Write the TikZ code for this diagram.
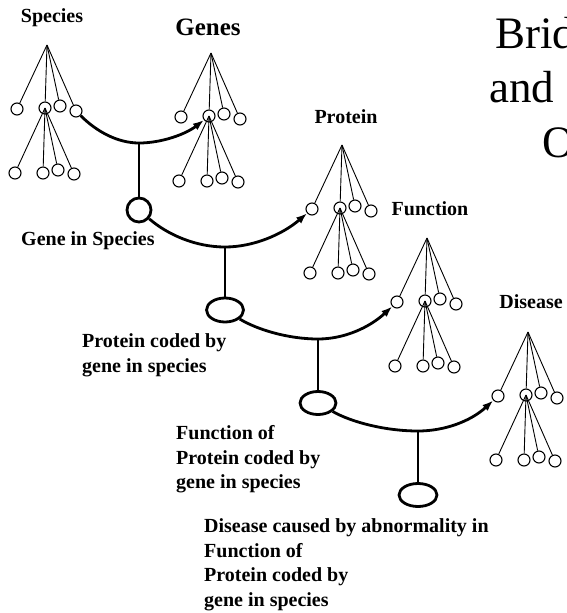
\documentclass[tikz,border=0pt]{standalone}
\usepackage{fontspec}
\setmainfont{Liberation Serif}
\usetikzlibrary{arrows.meta,shapes.geometric}

% one small ontology tree: #1 = name, (#2,#3) = apex
\newcommand{\ontotree}[3]{%
	\begin{scope}[shift={(#2,#3)}]
		\coordinate (#1) at (0,0);
		\node[leaf] (#1-1) at (-30,64) {};
		\node[leaf] (#1-2) at (-2,63) {};
		\node[leaf] (#1-3) at (13,61) {};
		\node[leaf] (#1-4) at (29,66) {};
		\node[leaf] (#1-5) at (-32,128) {};
		\node[leaf] (#1-6) at (-4,128) {};
		\node[leaf] (#1-7) at (11,125) {};
		\node[leaf] (#1-8) at (27,129) {};
		\foreach \k in {1,...,4} \draw[twig] (#1) -- (#1-\k);
		\foreach \k in {5,...,8} \draw[twig] (#1-2.center) -- (#1-\k);
	\end{scope}}

\begin{document}
\begin{tikzpicture}[x=1pt, y=-1pt,
	leaf/.style={circle, draw, minimum size=12pt, inner sep=0pt, line width=1.1pt},
	twig/.style={line width=0.9pt},
	hub/.style={ellipse, draw, line width=2.8pt, inner sep=0pt},
	link/.style={line width=2.8pt, -{Latex[length=11pt,width=8pt]}},
	stem/.style={line width=2.8pt},
	lbl/.style={font=\bfseries\fontsize{20}{24.5}\selectfont, inner sep=0pt},
	ttl/.style={font=\fontsize{45}{54}\selectfont, inner sep=0pt, anchor=base west}]
	\useasboundingbox (0,0) rectangle (566,613);
	\clip (0,0) rectangle (566,613);

	% trees
	\ontotree{sp}{47}{45}
	\ontotree{gn}{211}{53}
	\ontotree{pr}{342}{145}
	\ontotree{fn}{427}{238}
	\ontotree{ds}{528}{332}

	\node[lbl, anchor=base] (tsp) at (52,23) {Species};
	\node[lbl, anchor=base, font=\bfseries\fontsize{25}{30}\selectfont] (tgn) at (208,35) {Genes};
	\node[lbl, anchor=base] (tpr) at (346,123) {Protein};
	\node[lbl, anchor=base] (tfn) at (430,215) {Function};
	\node[lbl, anchor=base] (tds) at (531,308) {Disease};

	% junctions and bridge concepts
	\coordinate (j1) at (139,143);
	\coordinate (j2) at (225,247);
	\coordinate (j3) at (318,339);
	\coordinate (j4) at (418,431);
	\node[hub, minimum width=24pt, minimum height=24pt] (gs) at (139,210) {};
	\node[hub, minimum width=37pt, minimum height=24pt] (pc) at (225,310) {};
	\node[hub, minimum width=36pt, minimum height=23pt] (fp) at (318,403) {};
	\node[hub, minimum width=38pt, minimum height=23pt] (dc) at (418,495) {};

	\draw[link] (sp-4) .. controls +(21,21) and +(-21,0) .. (j1) .. controls +(23,0) and +(-23,18) .. (gn-2);
	\draw[link] (gs) .. controls +(29,25) and +(-29,0) .. (j2) .. controls +(29,0) and +(-29,25) .. (pr-1);
	\draw[link] (pc) .. controls +(31,19) and +(-31,0) .. (j3) .. controls +(27,0) and +(-27,25) .. (fn-1);
	\draw[link] (fp) .. controls +(33,19) and +(-33,0) .. (j4) .. controls +(27,0) and +(-27,25) .. (ds-1);
	\draw[stem] (j1) -- (gs);
	\draw[stem] (j2) -- (pc);
	\draw[stem] (j3) -- (fp);
	\draw[stem] (j4) -- (dc);

	\node[lbl, anchor=base west] (lgs) at (21,245) {Gene in Species};
	\node[lbl, align=left, anchor=north west] (lpc) at (82,333.5) {Protein coded by\\gene in species};
	\node[lbl, align=left, anchor=north west] (lfp) at (176,425.5) {Function of\\Protein coded by\\gene in species};
	\node[lbl, align=left, anchor=north west] (ldc) at (204,518.5) {Disease caused by abnormality in\\Function of\\Protein coded by\\gene in species};

	% title, cut off by the right edge
	\node[ttl] (t1) at (495,48) {Brid};
	\node[ttl] (t2) at (489,102) {and};
	\node[ttl] (t3) at (542,157) {O};
\end{tikzpicture}
\end{document}
